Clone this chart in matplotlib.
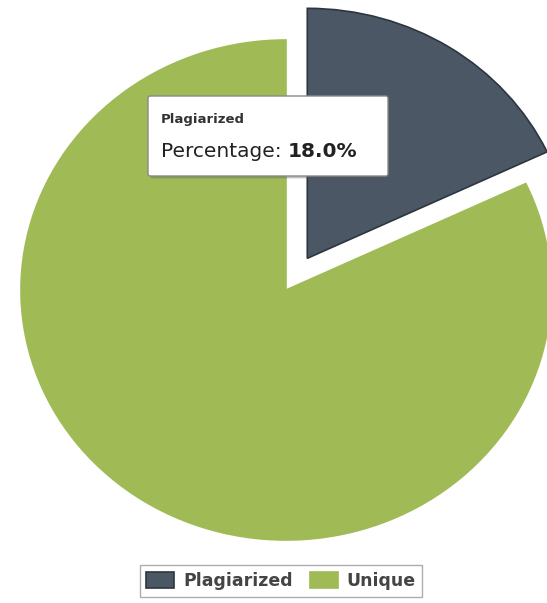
import matplotlib.pyplot as plt
from matplotlib.patches import FancyBboxPatch

labels = ["Plagiarized", "Unique"]
values = [18.0, 82.0]
colors = ["#4b5765", "#a0bb55"]
edges = ["#2c3640", "#a0bb55"]
explode = [0.15, 0.0]

fig = plt.figure(figsize=(5.47, 6.03), dpi=100)
fig.patch.set_facecolor("white")

# axes cover the whole figure; limits put the pie centre where the reference has it
ax = fig.add_axes([0, 0, 1, 1])
wedges, _ = ax.pie(values, colors=colors, explode=explode, startangle=90,
                   counterclock=False, radius=1.0,
                   wedgeprops=dict(linewidth=1.2))
for w, ec in zip(wedges, edges):
    w.set_edgecolor(ec)
ax.set_aspect("auto")
ax.set_xlim(-286 / 265, (547 - 286) / 265)
ax.set_ylim(-313 / 250, 290 / 250)
ax.axis("off")

# tooltip
W, H = 547, 603
x0, y0, x1, y1 = 148, 96, 388, 176
shadow = FancyBboxPatch((x0 / W + 0.004, 1 - y1 / H - 0.004), (x1 - x0) / W, (y1 - y0) / H,
                        boxstyle="round,pad=0,rounding_size=0.004",
                        transform=fig.transFigure, facecolor="#555555", alpha=0.35,
                        edgecolor="none", zorder=5)
box = FancyBboxPatch((x0 / W, 1 - y1 / H), (x1 - x0) / W, (y1 - y0) / H,
                     boxstyle="round,pad=0,rounding_size=0.004",
                     transform=fig.transFigure, facecolor="white",
                     edgecolor="#888888", linewidth=1.0, zorder=6)
fig.add_artist(shadow)
fig.add_artist(box)
fig.text(161 / W, 1 - 120 / H, labels[0], fontsize=9.5, color="#333333",
         fontweight="bold", va="center", ha="left", zorder=7)
t = fig.text(161 / W, 1 - 151 / H, "Percentage: ", fontsize=14.5, color="#222222",
             va="center", ha="left", zorder=7)
fig.canvas.draw()
bb = t.get_window_extent()
fig.text(bb.x1 / W, 1 - 151 / H, f"{values[0]:.1f}%", fontsize=14.5, color="#222222",
         fontweight="bold", va="center", ha="left", zorder=7)

# legend
leg = fig.legend(wedges, labels, loc="center", bbox_to_anchor=(281 / W, 1 - 581 / H),
                 ncol=2, frameon=True, fancybox=False, fontsize=12.5,
                 handlelength=1.6, handleheight=1.0, handletextpad=0.5,
                 columnspacing=1.0, borderpad=0.4)
leg.get_frame().set_edgecolor("#999999")
leg.get_frame().set_linewidth(1.0)
for txt in leg.get_texts():
    txt.set_color("#444444")
    txt.set_fontweight("bold")

fig.savefig("out.png", dpi=100)
